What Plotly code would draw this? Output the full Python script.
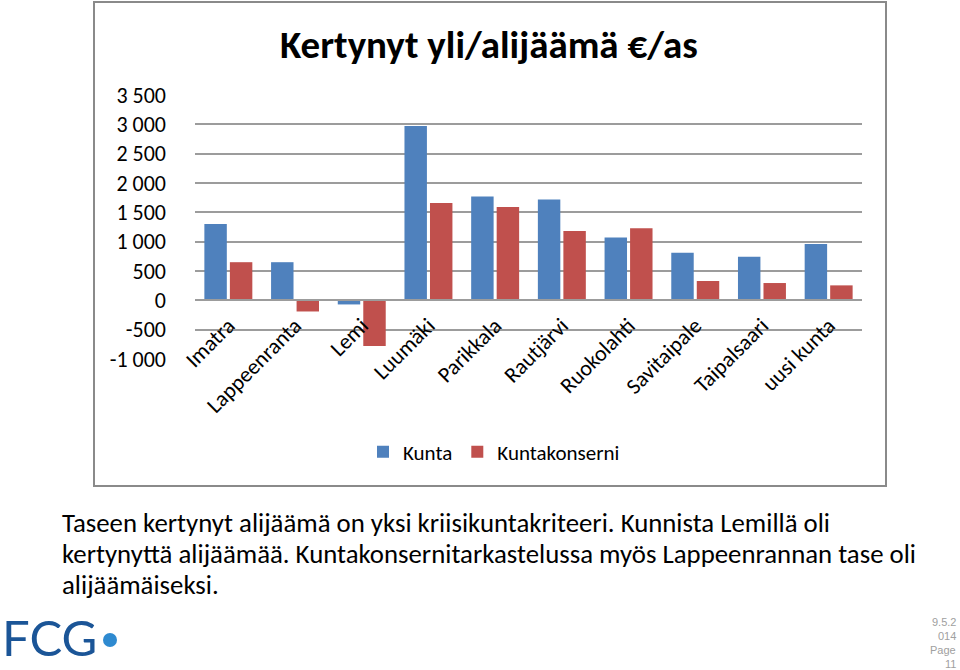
import plotly.graph_objects as go

# ---------------- data ----------------
categories = ["Imatra", "Lappeenranta", "Lemi", "Luumäki", "Parikkala",
              "Rautjärvi", "Ruokolahti", "Savitaipale", "Taipalsaari", "uusi kunta"]
kunta = [1300, 650, -70, 2970, 1770, 1720, 1070, 810, 745, 960]
kuntakonserni = [650, -190, -780, 1660, 1590, 1180, 1230, 330, 295, 255]
series_names = ["Kunta", "Kuntakonserni"]
y_tick_vals = [3500, 3000, 2500, 2000, 1500, 1000, 500, 0, -500, -1000]
y_tick_text = ["3 500", "3 000", "2 500", "2 000", "1 500", "1 000", "500", "0", "-500", "-1 000"]
title_text = "Kertynyt yli/alijäämä €/as"
body_lines = [
    "Taseen kertynyt alijäämä on yksi kriisikuntakriteeri. Kunnista Lemillä oli",
    "kertynyttä alijäämää. Kuntakonsernitarkastelussa myös Lappeenrannan tase oli",
    "alijäämäiseksi.",
]
page_lines = ["9.5.2", "014", "Page", "11"]
logo_text = "FCG"

# ---------------- layout helpers ----------------
W, H = 960, 670
def px(p):
    return p / W
def py(p):
    return 1 - p / H

FONT = "Calibri, Carlito, Lato, sans-serif"
y_min, y_max = -1000, 3500
dom_y = [py(359), py(95)]
zero_pos = dom_y[0] + (dom_y[1] - dom_y[0]) * (0 - y_min) / (y_max - y_min)
grid_col = "#9c9c9c"

fig = go.Figure()
fig.add_trace(go.Bar(x=categories, y=kunta, name=series_names[0],
                     marker=dict(color="#4F81BD", line=dict(width=0))))
fig.add_trace(go.Bar(x=categories, y=kuntakonserni, name=series_names[1],
                     marker=dict(color="#C0504D", line=dict(width=0))))

annotations = [
    dict(text="<b>" + title_text + "</b>", x=px(489), y=py(45), xref="paper", yref="paper",
         showarrow=False, xanchor="center", yanchor="middle",
         font=dict(family=FONT, size=39, color="#000000")),
]
for line, yc in zip(body_lines, [522, 553, 584]):
    annotations.append(dict(text=line, x=px(60), y=py(yc), xref="paper", yref="paper",
                            showarrow=False, xanchor="left", yanchor="middle",
                            font=dict(family=FONT, size=26.8, color="#000000")))
for line, yc in zip(page_lines, [622, 636, 650, 664]):
    annotations.append(dict(text=line, x=px(958), y=py(yc), xref="paper", yref="paper",
                            showarrow=False, xanchor="right", yanchor="middle",
                            font=dict(family="Liberation Sans, Arial, sans-serif", size=11, color="#a0a0a0")))
annotations.append(dict(text=logo_text, x=px(0), y=py(637), xref="paper", yref="paper",
                        showarrow=False, xanchor="left", yanchor="middle",
                        font=dict(family="Lato, sans-serif", size=49, color="#1B5597")))

shapes = [
    dict(type="rect", xref="paper", yref="paper", x0=px(94), x1=px(886), y0=py(486), y1=py(2),
         line=dict(color="#8a8a8a", width=2), fillcolor="rgba(0,0,0,0)", layer="below"),
    dict(type="circle", xref="paper", yref="paper", x0=px(103), x1=px(117), y0=py(647), y1=py(633),
         line=dict(width=0), fillcolor="#2E8AD0"),
]

fig.update_layout(
    width=W, height=H,
    margin=dict(l=0, r=0, t=0, b=0, pad=0, autoexpand=False),
    paper_bgcolor="white", plot_bgcolor="white",
    barmode="group", bargap=0.235, bargroupgap=0.12,
    font=dict(family=FONT, size=22, color="#000000"),
    xaxis=dict(domain=[px(195), px(862)], anchor="free", position=zero_pos, automargin=False,
               showline=True, linecolor=grid_col, linewidth=1.5,
               showgrid=False, ticks="", tickangle=-45, ticklabelstandoff=3,
               tickfont=dict(family=FONT, size=22, color="#000000")),
    yaxis=dict(domain=dom_y, range=[y_min, y_max], tickvals=y_tick_vals, ticktext=y_tick_text,
               automargin=False,
               showgrid=True, gridcolor=grid_col, gridwidth=1.5,
               zeroline=True, zerolinecolor=grid_col, zerolinewidth=1.5,
               showline=False, ticks="", ticklabelstandoff=28,
               tickfont=dict(family=FONT, size=22, color="#000000")),
    showlegend=True,
    legend=dict(orientation="h", x=px(494), y=py(452), xanchor="center", yanchor="middle",
                font=dict(family=FONT, size=21, color="#000000"), bgcolor="rgba(0,0,0,0)"),
    annotations=annotations,
    shapes=shapes,
)

fig.write_html("out.html")
